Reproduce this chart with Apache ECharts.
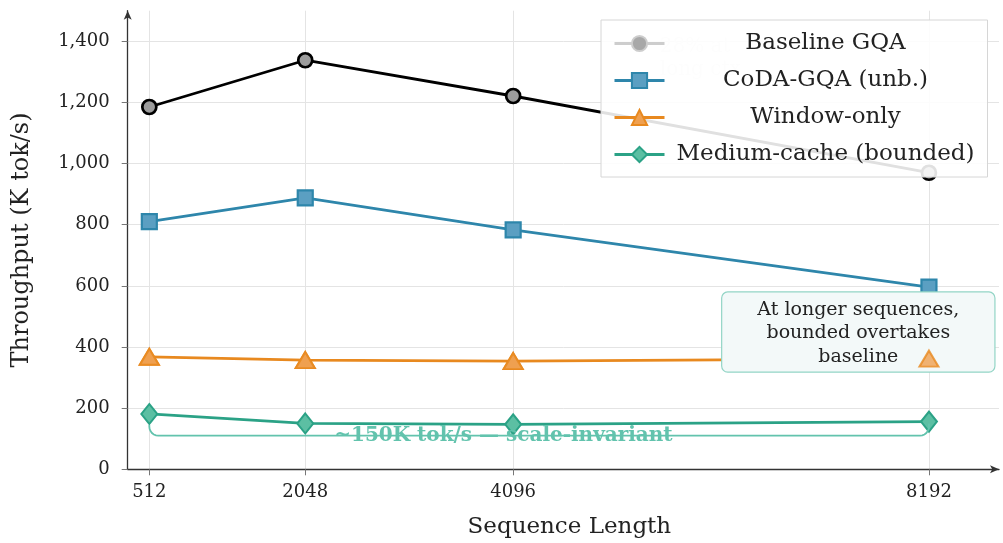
<!DOCTYPE html>
<html>
<head>
<meta charset="utf-8">
<title>Throughput vs sequence length</title>
<script src="https://cdn.jsdelivr.net/npm/echarts@6/dist/echarts.min.js"></script>
<style>
  html, body { margin: 0; padding: 0; background: #fff; }
  #chart { width: 1003px; height: 543px; }
</style>
</head>
<body>
<div id="chart"></div>
<script>
// data
const seqLengths = [512, 2048, 4096, 8192];
const baselineGQA = [1185, 1338, 1221, 970];
const codaUnb = [810, 888, 783, 596];
const windowOnly = [368, 357, 354, 362];
const mediumCache = [181, 150, 147, 156];
const yTicks = [0, 200, 400, 600, 800, 1000, 1200, 1400];

const FONT = "DejaVu Serif";
const pairs = (ys) => seqLengths.map((x, i) => [x, ys[i]]);

const chart = echarts.init(document.getElementById("chart"), null, { renderer: "canvas" });

const option = {
  animation: false,
  backgroundColor: "#fff",
  grid: { left: 127.7, right: 4, top: 10.7, bottom: 73.7, containLabel: false, outerBoundsMode: "none" },
  xAxis: {
    type: "value",
    min: 299,
    max: 8882,
    name: "Sequence Length",
    nameLocation: "middle",
    nameGap: 46,
    nameTextStyle: { fontFamily: FONT, fontSize: 23, color: "#222", padding: [0, 0, 0, 12] },
    axisLine: { show: true, symbol: ["none", "arrow"], symbolSize: [6, 9], lineStyle: { color: "#333", width: 1.3 } },
    axisTick: { show: true, length: 6, customValues: seqLengths, lineStyle: { color: "#777" } },
    axisLabel: {
      customValues: seqLengths, margin: 14, fontFamily: FONT, fontSize: 18, color: "#222",
      formatter: (v) => String(v),
    },
    splitLine: { show: true, lineStyle: { color: "#e4e4e4", width: 1 } },
  },
  yAxis: {
    type: "value",
    min: 0,
    max: 1500,
    name: "Throughput (K tok/s)",
    nameLocation: "middle",
    nameGap: 94,
    nameTextStyle: { fontFamily: FONT, fontSize: 24, color: "#222" },
    axisLine: { show: true, symbol: ["none", "arrow"], symbolSize: [6, 9], lineStyle: { color: "#333", width: 1.3 } },
    axisTick: { show: true, length: 6, customValues: yTicks, lineStyle: { color: "#777" } },
    axisLabel: {
      customValues: yTicks, margin: 18, fontFamily: FONT, fontSize: 18, color: "#222",
      formatter: (v) => v.toLocaleString("en-US"),
    },
    splitLine: { show: true, lineStyle: { color: "#e4e4e4", width: 1 } },
  },
  legend: {
    left: 601,
    top: 20,
    z: 10,
    orient: "vertical",
    selectedMode: false,
    itemWidth: 50,
    itemHeight: 19,
    itemGap: 14,
    padding: [12, 13, 11, 12],
    backgroundColor: "rgba(255,255,255,0.88)",
    borderColor: "#d6d6d6",
    borderWidth: 1,
    lineStyle: { width: 3 },
    formatter: (n) => "{c|" + n + "}",
    textStyle: {
      rich: { c: { width: 312, align: "center", fontFamily: FONT, fontSize: 23, color: "#222", height: 22 } },
    },
    data: [
      { name: "Baseline GQA", itemStyle: { color: "#a8a8a8", borderColor: "#cdcdcd" }, lineStyle: { color: "#cdcdcd", width: 3 } },
      { name: "CoDA-GQA (unb.)" },
      { name: "Window-only" },
      { name: "Medium-cache (bounded)" },
    ],
  },
  series: [
    {
      name: "Baseline GQA",
      type: "line",
      data: pairs(baselineGQA),
      symbol: "circle",
      symbolSize: 14,
      lineStyle: { color: "#000", width: 2.8 },
      itemStyle: { color: "#9c9c9c", borderColor: "#000", borderWidth: 2.7 },
      z: 2,
    },
    {
      name: "CoDA-GQA (unb.)",
      type: "line",
      data: pairs(codaUnb),
      symbol: "rect",
      symbolSize: 15,
      lineStyle: { color: "#2e86ab", width: 2.8 },
      itemStyle: { color: "#5b9fc2", borderColor: "#2e86ab", borderWidth: 2.2 },
      z: 2,
    },
    {
      name: "Window-only",
      type: "line",
      data: pairs(windowOnly),
      symbol: "triangle",
      symbolSize: [19, 16],
      lineStyle: { color: "#e8891f", width: 2.8 },
      itemStyle: { color: "#efa050", borderColor: "#e8891f", borderWidth: 2 },
      z: 2,
    },
    {
      // markers of Window-only drawn again above the annotation box
      name: "Window-only markers",
      type: "scatter",
      data: pairs(windowOnly),
      symbol: "triangle",
      symbolSize: [19, 16],
      itemStyle: { color: "#efa050", borderColor: "#e8891f", borderWidth: 2 },
      z: 5,
    },
    {
      name: "Medium-cache (bounded)",
      type: "line",
      data: pairs(mediumCache),
      symbol: "diamond",
      symbolSize: [16, 20],
      lineStyle: { color: "#2ba286", width: 2.8 },
      itemStyle: { color: "#5cbfa3", borderColor: "#2ba286", borderWidth: 2 },
      z: 2,
    },
  ],
};

chart.setOption(option);

// annotations, placed from data coordinates
const px = (x, y) => chart.convertToPixel({ gridIndex: 0 }, [x, y]);
const boxTL = px(6150, 580);
const boxBR = px(8842, 318);
const bl = px(512, 145);
const br = px(8192, 150);
const bLine = px(512, 110)[1];
const labelPos = px(4000, 110);
const hiddenNote = px(5540, 1420);

// bracket under the bounded series, rounded corners as short arcs
function corner(cx, cy, rad, a0, a1) {
  const pts = [];
  for (let k = 0; k <= 6; k++) {
    const a = a0 + (a1 - a0) * k / 6;
    pts.push([cx + rad * Math.cos(a), cy + rad * Math.sin(a)]);
  }
  return pts;
}
const rr = 9;
const bracketPts = [[bl[0], bl[1]]]
  .concat(corner(bl[0] + rr, bLine - rr, rr, Math.PI, Math.PI / 2))
  .concat(corner(br[0] - rr, bLine - rr, rr, Math.PI / 2, 0))
  .concat([[br[0], br[1]]]);

chart.setOption({
  graphic: [
    {
      // note hidden behind the legend box
      type: "text",
      x: hiddenNote[0],
      y: hiddenNote[1],
      z: 1,
      silent: true,
      style: { text: "28% at\nlong ctx", font: "20px '" + FONT + "'", fill: "#ededed", lineHeight: 23 },
    },
    {
      type: "rect",
      z: 3,
      silent: true,
      shape: { x: boxTL[0], y: boxTL[1], width: boxBR[0] - boxTL[0], height: boxBR[1] - boxTL[1], r: 6 },
      style: { fill: "#f3f9f9", stroke: "#93d5c6", lineWidth: 1.2 },
    },
    {
      type: "text",
      z: 4,
      silent: true,
      x: (boxTL[0] + boxBR[0]) / 2,
      y: boxTL[1] + 6,
      style: {
        text: "At longer sequences,\nbounded overtakes\nbaseline",
        font: "19px '" + FONT + "'", fill: "#222", align: "center", lineHeight: 23.5,
      },
    },
    {
      type: "polyline",
      z: 3,
      silent: true,
      shape: { points: bracketPts },
      style: { fill: null, stroke: "#62c3ad", lineWidth: 1.8 },
    },
    {
      type: "text",
      z: 4,
      silent: true,
      x: labelPos[0],
      y: bLine,
      style: {
        text: "~150K tok/s — scale-invariant",
        font: "bold 20px '" + FONT + "'", fill: "#62c3ad", align: "center", verticalAlign: "middle",
      },
    },
  ],
});
</script>
</body>
</html>
